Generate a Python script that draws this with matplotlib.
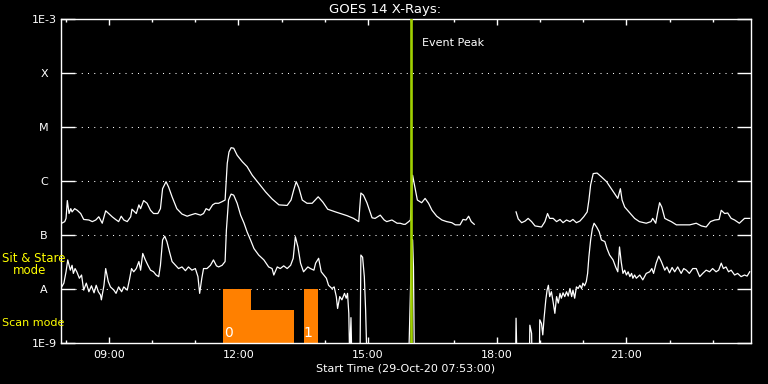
import numpy as np
import matplotlib
matplotlib.use('Agg')
import matplotlib.pyplot as plt
from matplotlib.ticker import FixedLocator, NullLocator

nan = np.nan

# GOES 14 long channel (1-8 A): time in decimal hours (UT), log10 flux (W/m^2)
long_hours = [7.90, 7.97, 8.00, 8.03, 8.07, 8.11, 8.14, 8.20, 8.26, 8.34, 8.41, 8.53, 8.61, 8.69,
              8.76, 8.84, 8.92, 8.99, 9.07, 9.15, 9.22, 9.28, 9.34, 9.42, 9.50, 9.53, 9.63, 9.69,
              9.73, 9.80, 9.88, 9.96, 10.03, 10.13, 10.19, 10.24, 10.32, 10.38, 10.46, 10.57, 10.69,
              10.81, 10.88, 11.00, 11.12, 11.19, 11.25, 11.32, 11.40, 11.46, 11.54, 11.62, 11.69,
              11.74, 11.78, 11.83, 11.89, 11.97, 12.09, 12.20, 12.32, 12.47, 12.63, 12.78, 12.94,
              13.13, 13.22, 13.28, 13.34, 13.40, 13.48, 13.59, 13.71, 13.85, 13.96, 14.07, 14.25,
              14.52, 14.67, 14.79, 14.84, 14.90, 14.98, 15.10, 15.17, 15.29, 15.38, 15.44, 15.56,
              15.68, 15.75, 15.83, 15.87, 15.95, 15.99, 16.04, 16.10, 16.15, 16.25, 16.33, 16.41,
              16.49, 16.60, 16.72, 16.83, 16.95, 17.03, 17.14, 17.21, 17.28, 17.34, 17.40, 17.47,
              17.90,
              18.44, 18.49, 18.57, 18.65, 18.72, 18.80, 18.88, 19.03, 19.11, 19.17, 19.22, 19.30,
              19.38, 19.46, 19.53, 19.61, 19.69, 19.76, 19.84, 19.92, 20.01, 20.09, 20.13, 20.17,
              20.23, 20.32, 20.42, 20.54, 20.65, 20.75, 20.80, 20.86, 20.90, 20.96, 21.07, 21.19,
              21.30, 21.46, 21.57, 21.61, 21.68, 21.72, 21.77, 21.82, 21.89, 21.96, 22.04, 22.16,
              22.31, 22.47, 22.62, 22.74, 22.85, 22.95, 23.05, 23.15, 23.20, 23.28, 23.35, 23.43,
              23.51, 23.62, 23.74, 23.86]
long_logflux = [-6.78, -6.75, -6.69, -6.36, -6.60, -6.51, -6.57, -6.51, -6.54, -6.60, -6.71, -6.72,
                -6.75, -6.72, -6.66, -6.78, -6.55, -6.60, -6.66, -6.71, -6.75, -6.65, -6.72, -6.75,
                -6.66, -6.52, -6.60, -6.44, -6.51, -6.36, -6.41, -6.54, -6.60, -6.60, -6.51, -6.14,
                -6.01, -6.11, -6.29, -6.51, -6.61, -6.65, -6.63, -6.60, -6.63, -6.60, -6.51, -6.54,
                -6.44, -6.41, -6.41, -6.38, -6.35, -5.67, -5.46, -5.38, -5.39, -5.52, -5.64, -5.73,
                -5.89, -6.04, -6.20, -6.33, -6.44, -6.45, -6.35, -6.17, -6.01, -6.12, -6.35, -6.41,
                -6.41, -6.29, -6.39, -6.52, -6.57, -6.64, -6.69, -6.75, -6.22, -6.26, -6.40, -6.68,
                -6.69, -6.63, -6.72, -6.75, -6.72, -6.78, -6.78, -6.80, -6.80, -6.75, -6.72, -5.89,
                -6.14, -6.35, -6.40, -6.32, -6.41, -6.54, -6.65, -6.72, -6.75, -6.77, -6.81, -6.81,
                -6.71, -6.72, -6.65, -6.75, -6.80,
                nan,
                -6.57, -6.70, -6.77, -6.74, -6.69, -6.75, -6.83, -6.85, -6.75, -6.60, -6.69, -6.69,
                -6.75, -6.71, -6.77, -6.72, -6.75, -6.71, -6.77, -6.74, -6.66, -6.57, -6.35, -6.07,
                -5.86, -5.85, -5.92, -6.01, -6.14, -6.26, -6.32, -6.14, -6.35, -6.48, -6.58, -6.69,
                -6.75, -6.78, -6.75, -6.69, -6.78, -6.60, -6.40, -6.48, -6.69, -6.72, -6.75, -6.81,
                -6.81, -6.81, -6.78, -6.83, -6.85, -6.75, -6.72, -6.71, -6.54, -6.60, -6.59, -6.69,
                -6.72, -6.78, -6.69, -6.69]

# GOES 14 short channel (0.5-4 A); -9.3 = off scale low
short_hours = [7.90, 7.95, 8.00, 8.04, 8.10, 8.14, 8.17, 8.21, 8.25, 8.31, 8.36, 8.41, 8.47, 8.53,
               8.59, 8.65, 8.70, 8.75, 8.80, 8.82, 8.88, 8.92, 8.98, 9.03, 9.11, 9.16, 9.22, 9.29,
               9.34, 9.42, 9.47, 9.52, 9.57, 9.63, 9.69, 9.73, 9.78, 9.84, 9.90, 9.96, 10.03, 10.09,
               10.15, 10.19, 10.24, 10.29, 10.34, 10.40, 10.46, 10.54, 10.61, 10.69, 10.77, 10.84,
               10.92, 11.00, 11.06, 11.10, 11.15, 11.19, 11.27, 11.35, 11.42, 11.49, 11.54, 11.62,
               11.69, 11.72, 11.77, 11.83, 11.89, 11.97, 12.05, 12.13, 12.20, 12.28, 12.36, 12.47,
               12.59, 12.70, 12.78, 12.82, 12.90, 12.97, 13.05, 13.13, 13.21, 13.27, 13.32, 13.38,
               13.44, 13.51, 13.61, 13.67, 13.75, 13.79, 13.86, 13.92, 13.98, 14.04, 14.09, 14.17,
               14.22, 14.27, 14.30, 14.35, 14.40, 14.46, 14.50, 14.53, 14.56, 14.58, 14.61, 14.63,
               14.82, 14.84, 14.88, 14.92, 14.95, 14.98,
               15.50,
               15.95, 16.02, 16.04, 16.06, 16.08,
               17.00,
               18.43, 18.44, 18.46, 18.75, 18.76, 18.80, 18.81, 18.98, 18.99, 19.03, 19.06, 19.09,
               19.13, 19.16, 19.19, 19.22, 19.26, 19.30, 19.34, 19.38, 19.42, 19.46, 19.49, 19.53,
               19.57, 19.61, 19.65, 19.69, 19.73, 19.76, 19.80, 19.84, 19.88, 19.92, 19.96, 19.99,
               20.03, 20.07, 20.10, 20.13, 20.17, 20.21, 20.25, 20.31, 20.37, 20.42, 20.50, 20.55,
               20.61, 20.69, 20.75, 20.80, 20.84, 20.88, 20.92, 20.96, 21.00, 21.04, 21.08, 21.12,
               21.15, 21.19, 21.23, 21.31, 21.38, 21.46, 21.54, 21.59, 21.63, 21.69, 21.75, 21.81,
               21.89, 21.94, 22.00, 22.06, 22.12, 22.19, 22.27, 22.33, 22.39, 22.46, 22.54, 22.62,
               22.70, 22.77, 22.85, 22.93, 23.00, 23.08, 23.14, 23.20, 23.25, 23.31, 23.37, 23.43,
               23.51, 23.58, 23.66, 23.74, 23.80, 23.86]
short_logflux = [-7.96, -7.89, -7.68, -7.46, -7.65, -7.56, -7.71, -7.62, -7.68, -7.80, -7.74, -8.02,
                 -7.89, -8.05, -7.94, -8.07, -7.93, -8.05, -8.11, -8.20, -7.93, -7.62, -7.86, -7.96,
                 -8.02, -8.08, -7.96, -8.05, -7.96, -8.02, -7.83, -7.62, -7.68, -7.62, -7.49, -7.65,
                 -7.34, -7.46, -7.56, -7.65, -7.68, -7.74, -7.77, -7.56, -7.09, -7.02, -7.12, -7.31,
                 -7.49, -7.56, -7.62, -7.59, -7.66, -7.59, -7.65, -7.62, -7.77, -8.08, -7.80, -7.62,
                 -7.62, -7.56, -7.46, -7.57, -7.59, -7.56, -7.49, -6.91, -6.35, -6.24, -6.26, -6.41,
                 -6.63, -6.78, -6.94, -7.09, -7.25, -7.37, -7.46, -7.59, -7.62, -7.74, -7.59, -7.62,
                 -7.57, -7.62, -7.56, -7.43, -7.03, -7.22, -7.52, -7.68, -7.59, -7.62, -7.65, -7.52,
                 -7.43, -7.68, -7.74, -7.80, -7.93, -7.99, -7.96, -8.14, -8.36, -8.14, -8.20, -8.08,
                 -8.17, -8.08, -8.45, -9.30, -8.53, -9.30,
                 -9.30, -7.37, -7.41, -7.77, -8.39, -9.30,
                 nan,
                 -9.30, -7.08, -7.09, -7.59, -9.30,
                 nan,
                 -9.30, -8.54, -9.30, -9.30, -8.67, -8.82, -9.30, -9.30, -8.57, -8.64, -8.85, -8.54,
                 -8.20, -8.02, -7.93, -8.14, -8.05, -8.24, -8.45, -8.14, -8.26, -8.08, -8.17, -8.07,
                 -8.14, -8.05, -8.13, -7.99, -8.14, -8.02, -8.17, -7.96, -7.99, -7.93, -7.99, -7.89,
                 -7.94, -7.86, -7.71, -7.40, -7.09, -6.88, -6.78, -6.85, -6.94, -7.09, -7.12, -7.25,
                 -7.37, -7.46, -7.59, -7.68, -7.22, -7.50, -7.71, -7.65, -7.74, -7.68, -7.77, -7.71,
                 -7.80, -7.74, -7.80, -7.74, -7.83, -7.71, -7.68, -7.62, -7.71, -7.52, -7.39, -7.49,
                 -7.65, -7.59, -7.70, -7.60, -7.68, -7.59, -7.71, -7.62, -7.65, -7.71, -7.62, -7.62,
                 -7.77, -7.71, -7.65, -7.68, -7.62, -7.68, -7.65, -7.52, -7.62, -7.59, -7.68, -7.65,
                 -7.74, -7.71, -7.77, -7.74, -7.76, -7.68]

# Scan mode intervals (orange blocks)
scan_start = [11.65, 12.28, 13.51]
scan_end = [12.28, 13.30, 13.85]
scan_top_log = [-8.00, -8.39, -8.00]
scan_label_text = ['0', '1']
scan_label_hours = [11.77, 13.60]

event_peak_hour = 16.0

level_values = [1e-9, 1e-8, 1e-7, 1e-6, 1e-5, 1e-4, 1e-3]
level_labels = ['1E-9', 'A', 'B', 'C', 'M', 'X', '1E-3']
xtick_hours = [9, 12, 15, 18, 21]
xtick_labels = ['09:00', '12:00', '15:00', '18:00', '21:00']
start_hour = 7 + 53 / 60.0

# ---------------------------------------------------------------------------
W, H = 768, 384
fig = plt.figure(figsize=(W / 100, H / 100), dpi=100, facecolor='black')
ax = fig.add_axes([61 / W, 1 - 343 / H, (750.7 - 61) / W, (343 - 19.3) / H])
ax.set_facecolor('black')
ax.set_yscale('log')
ax.set_ylim(1e-9, 1e-3)
ax.set_xlim(start_hour, start_hour + 16)

for s in ax.spines.values():
    s.set_color('white')
    s.set_linewidth(1.0)

# dotted level lines
for v in level_values[1:-1]:
    ax.axhline(v, xmin=14 / 689.7, xmax=1 - 14 / 689.7, color='white', lw=0.75,
               linestyle=(0, (1, 5)), zorder=1)

# scan mode blocks
for s0, s1, top in zip(scan_start, scan_end, scan_top_log):
    ax.bar(s0, 10 ** top - 1e-9, width=s1 - s0, bottom=1e-9, align='edge',
           color='#ff8000', edgecolor='none', zorder=2)
for t, lab in zip(scan_label_hours, scan_label_text):
    ax.text(t, 10 ** -8.815, lab, color='white', fontsize=10, ha='center', va='center', zorder=3)

lh = np.array(long_hours, dtype=float)
lf = 10 ** np.array(long_logflux, dtype=float)
sh = np.array(short_hours, dtype=float)
sf = 10 ** np.array(short_logflux, dtype=float)
ax.plot(lh, lf, color='white', lw=0.9, zorder=4)
ax.plot(sh, sf, color='white', lw=0.9, zorder=4)

ax.axvline(event_peak_hour, color='#a0d000', lw=1.9, zorder=5)
ax.text(16.25, 10 ** -3.44, 'Event Peak', color='white', fontsize=8, ha='left', va='center')

# ticks
ax.yaxis.set_major_locator(FixedLocator(level_values))
ax.yaxis.set_minor_locator(NullLocator())
ax.set_yticklabels(level_labels)
ax.tick_params(axis='y', which='major', direction='in', length=10, width=1.0, color='white',
               labelcolor='white', labelsize=8, left=True, right=True, pad=12.2)
for lab in ax.get_yticklabels():
    lab.set_horizontalalignment('center')

ax.xaxis.set_major_locator(FixedLocator(xtick_hours))
ax.set_xticklabels(xtick_labels)
ax.xaxis.set_minor_locator(FixedLocator(list(range(8, 24))))
ax.tick_params(axis='x', which='major', direction='in', length=4.5, width=1.0, color='white',
               labelcolor='white', labelsize=8, top=True, bottom=True, pad=5)
ax.tick_params(axis='x', which='minor', direction='in', length=2.3, width=1.0, color='white',
               top=True, bottom=True)

fig.text(385 / W, 1 - 9.5 / H, 'GOES 14 X-Rays:', color='white', fontsize=9.5,
         ha='center', va='center')
fig.text(405.8 / W, 1 - 368.5 / H, 'Start Time (29-Oct-20 07:53:00)', color='white',
         fontsize=8, ha='center', va='center')

fig.text(2 / W, 1 - 259 / H, 'Sit & Stare', color='#ffff00', fontsize=8.5, ha='left', va='center')
fig.text(12.7 / W, 1 - 271 / H, 'mode', color='#ffff00', fontsize=8.5, ha='left', va='center')
fig.text(2 / W, 1 - 323 / H, 'Scan mode', color='#ffff00', fontsize=8, ha='left', va='center')

fig.savefig('out.png', dpi=100, facecolor='black')
